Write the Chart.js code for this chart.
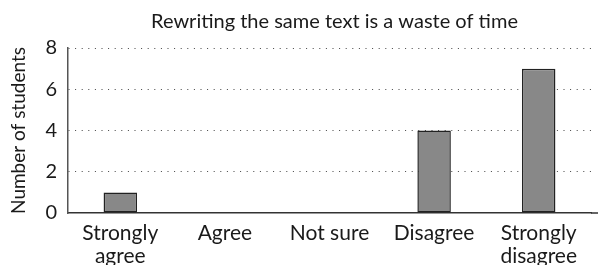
<!DOCTYPE html>
<html>
<head>
<meta charset="utf-8">
<script src="https://cdn.jsdelivr.net/npm/chart.js@4/dist/chart.umd.min.js"></script>
<style>
  html, body { margin: 0; padding: 0; background: #fff; }
  #wrap { width: 598px; height: 265px; }
</style>
</head>
<body>
<div id="wrap"><canvas id="surveyChart" width="598" height="265"></canvas></div>
<script>
// data
var categories = [['Strongly', 'agree'], 'Agree', 'Not sure', 'Disagree', ['Strongly', 'disagree']];
var students = [1, 0, 0, 4, 7];
var yTicks = [0, 2, 4, 6, 8];

var chartTitle = 'Rewriting the same text is a waste of time';
var yTitle = 'Number of students';

var fontName = 'Lato, "Open Sans", sans-serif';
var textColor = '#1a1a1a';

// title centred over the plot area instead of the whole canvas,
// and the baseline runs on to the right edge
var tweaks = {
    id: 'tweaks',
    afterLayout: function(chart) {
        var t = chart.titleBlock;
        if (t) {
            t.left = chart.chartArea.left + 5;
            t.right = chart.chartArea.right + 5;
            t.width = t.right - t.left;
        }
    },
    afterDraw: function(chart) {
        var ctx = chart.ctx;
        var a = chart.chartArea;
        ctx.save();
        ctx.strokeStyle = '#333';
        ctx.lineWidth = 1.5;
        ctx.beginPath();
        ctx.moveTo(a.right, a.bottom);
        ctx.lineTo(chart.width, a.bottom);
        ctx.stroke();
        ctx.restore();
    }
};

const ctx1 = document.getElementById('surveyChart').getContext('2d');
const surveyChart = new Chart(ctx1, {
    type: 'bar',
    data: {
        labels: categories,
        datasets: [{
            label: yTitle,
            data: students,
            backgroundColor: '#888888',
            borderColor: '#222',
            borderWidth: 1.5,
            borderSkipped: false,
            categoryPercentage: 1,
            barPercentage: 0.32
        }]
    },
    options: {
        responsive: false,
        animation: false,
        devicePixelRatio: 1,
        layout: {
            padding: { left: 7, right: 7, top: 0, bottom: 0 }
        },
        plugins: {
            legend: { display: false },
            tooltip: { enabled: false },
            title: {
                display: true,
                text: chartTitle,
                color: textColor,
                font: { family: fontName, size: 20, weight: 'normal', lineHeight: 1.2 },
                padding: { top: 10, bottom: 14 }
            }
        },
        scales: {
            x: {
                grid: { display: false, drawTicks: false },
                border: { display: true, color: '#333', width: 1.5 },
                ticks: {
                    color: textColor,
                    font: { family: fontName, size: 21, lineHeight: 1.12 },
                    padding: 8,
                    maxRotation: 0,
                    autoSkip: false
                },
                afterFit: function(scale) { scale.height = 52; }
            },
            y: {
                min: 0,
                max: 8,
                afterBuildTicks: function(scale) {
                    scale.ticks = yTicks.map(function(v) { return { value: v }; });
                },
                grid: {
                    drawTicks: false,
                    lineWidth: 1,
                    color: function(c) { return c.tick && c.tick.value === 0 ? 'rgba(0,0,0,0)' : '#444'; }
                },
                border: { display: true, color: '#555', width: 1.5, dash: [1, 5.6] },
                ticks: {
                    color: textColor,
                    font: { family: fontName, size: 20 },
                    padding: 11
                },
                title: {
                    display: true,
                    text: yTitle,
                    color: textColor,
                    font: { family: fontName, size: 19 },
                    padding: { top: 0, bottom: 0 }
                },
                afterFit: function(scale) { scale.width = 61; }
            }
        }
    },
    plugins: [tweaks]
});
</script>
</body>
</html>
